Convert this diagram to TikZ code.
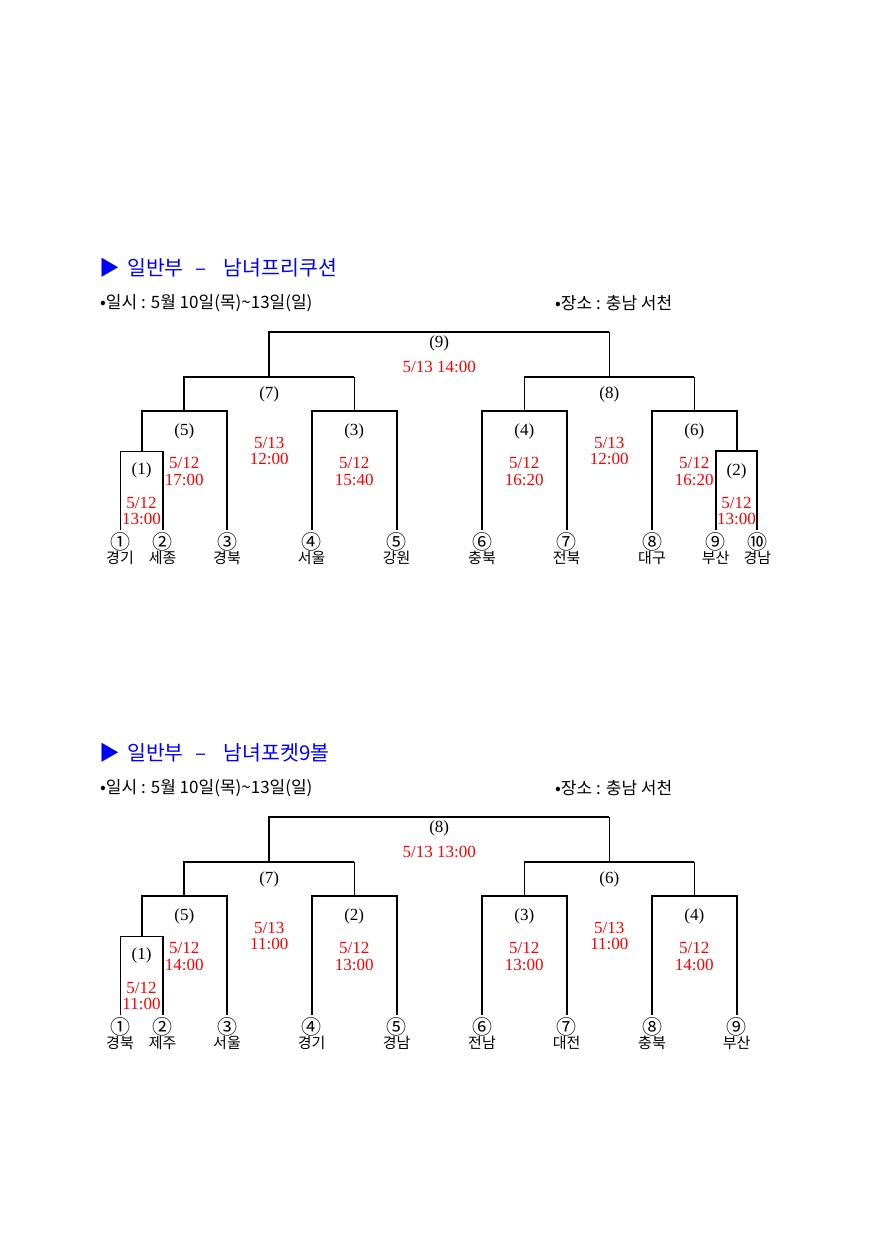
\documentclass[tikz,border=0pt]{standalone}
\usepackage{fontspec}
\setmainfont{Liberation Serif}
\newfontfamily\kr{Noto Sans CJK KR}
\usetikzlibrary{positioning}
\definecolor{TitleBlue}{RGB}{0,0,255}
\definecolor{TimeRed}{RGB}{255,0,0}
\tikzset{
  bline/.style={line width=2pt,black},
  tline/.style={line width=1pt,black},
  rno/.style={font=\fontsize{17}{18}\selectfont,inner sep=0pt},
  rtime/.style={font=\fontsize{17}{16.5}\selectfont,text=TimeRed,align=center,
    inner sep=0pt},
  cnum/.style={font=\kr\fontsize{20}{20}\selectfont,inner sep=0pt},
  team/.style={font=\kr\fontsize{15}{16}\selectfont,inner sep=0pt},
  heading/.style={font=\kr\fontsize{20.5}{22}\selectfont,text=TitleBlue,
    anchor=west,inner sep=0pt},
  info/.style={font=\kr\fontsize{17}{18}\selectfont,anchor=west,inner sep=0pt}
}

\begin{document}
\begin{tikzpicture}[x=1pt,y=-1pt]
\useasboundingbox[fill=white] (0,0) rectangle (888,1256);

% ===== Free cushion =====
\node[heading,anchor=center] (aarr) at (110,268) {▶};
\node[heading] (atitle) at (127,268) {일반부\hspace{12pt}–\hspace{17pt}남녀프리쿠션};
\node[info] (adate) at (100,303) {•일시 : 5월 10일(목)\textasciitilde 13일(일)};
\node[info] (aplace) at (555,303) {•장소 : 충남 서천};

% team ends
\coordinate (a1) at (120,530);
\coordinate (a2) at (162.7,530);
\coordinate (a3) at (227,530);
\coordinate (a4) at (311.7,530);
\coordinate (a5) at (396.7,530);
\coordinate (a6) at (482,530);
\coordinate (a7) at (566.7,530);
\coordinate (a8) at (652,530);
\coordinate (a9) at (715.7,530);
\coordinate (a10) at (757.3,530);

% match tops
\coordinate (am1) at (141.5,451.3);
\coordinate (am2) at (736.5,451.3);
\coordinate (am5) at (184.3,411);
\coordinate (am3) at (354.2,411);
\coordinate (am4) at (524.3,411);
\coordinate (am6) at (694.3,411);
\coordinate (am7) at (269.2,376.7);
\coordinate (am8) at (609.3,376.7);
\coordinate (am9) at (439.2,331.7);

% bracket lines
\draw[tline] (a1) |- (am1) -| (a2);
\draw[bline] (a2) -- (a2 |- am1);
\draw[bline] (a9) |- (am2) -| (a10);
\draw[bline] (am1) |- (am5) -| (a3);
\draw[bline] (a4) |- (am3) -| (a5);
\draw[bline] (a6) |- (am4) -| (a7);
\draw[bline] (a8) |- (am6) -| (am2);
\draw[bline] (am5) |- (am7) -- (am3 |- am7);
\draw[tline] (am3 |- am7) -- (am3);
\draw[bline] (am4 |- am8) -- (am6 |- am8);
\draw[tline] (am4) -- (am4 |- am8);
\draw[tline] (am6) -- (am6 |- am8);
\draw[bline] (am7) |- (am9) -- (am8 |- am9);
\draw[tline] (am8 |- am9) -- (am8);

% round numbers and times
\node[rno] (ar9) at (439.2,343) {(9)};
\node[rtime] (at9) at (439.2,366.7) {5/13 14:00};
\node[rno] (ar7) at (269.2,394) {(7)};
\node[rtime] (at7) at (269.2,451) {5/13\\12:00};
\node[rno] (ar8) at (609.3,394) {(8)};
\node[rtime] (at8) at (609.3,451) {5/13\\12:00};
\node[rno] (ar5) at (184.3,431) {(5)};
\node[rtime] (at5) at (184.3,471.5) {5/12\\17:00};
\node[rno] (ar3) at (354.2,431) {(3)};
\node[rtime] (at3) at (354.2,471.5) {5/12\\15:40};
\node[rno] (ar4) at (524.3,431) {(4)};
\node[rtime] (at4) at (524.3,471.5) {5/12\\16:20};
\node[rno] (ar6) at (694.3,431) {(6)};
\node[rtime] (at6) at (694.3,471.5) {5/12\\16:20};
\node[rno] (ar1) at (141.5,470) {(1)};
\node[rtime] (at1) at (141.5,511) {5/12\\13:00};
\node[rno] (ar2) at (736.5,471.7) {(2)};
\node[rtime] (at2) at (736.5,511) {5/12\\13:00};

% teams
\node[cnum] (ac1) at (120,541.7) {①};
\node[cnum] (ac2) at (162.7,541.7) {②};
\node[cnum] (ac3) at (227,541.7) {③};
\node[cnum] (ac4) at (311.7,541.7) {④};
\node[cnum] (ac5) at (396.7,541.7) {⑤};
\node[cnum] (ac6) at (482,541.7) {⑥};
\node[cnum] (ac7) at (566.7,541.7) {⑦};
\node[cnum] (ac8) at (652,541.7) {⑧};
\node[cnum] (ac9) at (715.7,541.7) {⑨};
\node[cnum] (ac10) at (757.3,541.7) {⑩};
\node[team] (an1) at (120,558) {경기};
\node[team] (an2) at (162.7,558) {세종};
\node[team] (an3) at (227,558) {경북};
\node[team] (an4) at (311.7,558) {서울};
\node[team] (an5) at (396.7,558) {강원};
\node[team] (an6) at (482,558) {충북};
\node[team] (an7) at (566.7,558) {전북};
\node[team] (an8) at (652,558) {대구};
\node[team] (an9) at (715.7,558) {부산};
\node[team] (an10) at (757.3,558) {경남};

% ===== Pocket 9 ball =====
\begin{scope}[yshift=-485pt]
\node[heading,anchor=center] (barr) at (110,268) {▶};
\node[heading] (btitle) at (127,268) {일반부\hspace{12pt}–\hspace{17pt}남녀포켓9볼};
\node[info] (bdate) at (100,303) {•일시 : 5월 10일(목)\textasciitilde 13일(일)};
\node[info] (bplace) at (555,303) {•장소 : 충남 서천};

% team ends
\coordinate (b1) at (120,530);
\coordinate (b2) at (162.7,530);
\coordinate (b3) at (227,530);
\coordinate (b4) at (311.7,530);
\coordinate (b5) at (396.7,530);
\coordinate (b6) at (482,530);
\coordinate (b7) at (566.7,530);
\coordinate (b8) at (652,530);
\coordinate (b9) at (736.7,530);

% match tops
\coordinate (bm1) at (141.5,451.3);
\coordinate (bm5) at (184.3,411);
\coordinate (bm2) at (354.2,411);
\coordinate (bm3) at (524.3,411);
\coordinate (bm4) at (694.3,411);
\coordinate (bm7) at (269.2,376.7);
\coordinate (bm6) at (609.3,376.7);
\coordinate (bm8) at (439.2,331.7);

% bracket lines
\draw[tline] (b1) |- (bm1) -| (b2);
\draw[bline] (b2) -- (b2 |- bm1);
\draw[bline] (bm1) |- (bm5) -| (b3);
\draw[bline] (b4) |- (bm2) -| (b5);
\draw[bline] (b6) |- (bm3) -| (b7);
\draw[bline] (b8) |- (bm4) -| (b9);
\draw[bline] (bm5) |- (bm7) -- (bm2 |- bm7);
\draw[tline] (bm2 |- bm7) -- (bm2);
\draw[bline] (bm3 |- bm6) -- (bm4 |- bm6);
\draw[tline] (bm3) -- (bm3 |- bm6);
\draw[tline] (bm4) -- (bm4 |- bm6);
\draw[bline] (bm7) |- (bm8) -- (bm6 |- bm8);
\draw[tline] (bm6 |- bm8) -- (bm6);

% round numbers and times
\node[rno] (br8) at (439.2,343) {(8)};
\node[rtime] (bt8) at (439.2,366.7) {5/13 13:00};
\node[rno] (br7) at (269.2,394) {(7)};
\node[rtime] (bt7) at (269.2,451) {5/13\\11:00};
\node[rno] (br6) at (609.3,394) {(6)};
\node[rtime] (bt6) at (609.3,451) {5/13\\11:00};
\node[rno] (br5) at (184.3,431) {(5)};
\node[rtime] (bt5) at (184.3,471.5) {5/12\\14:00};
\node[rno] (br2) at (354.2,431) {(2)};
\node[rtime] (bt2) at (354.2,471.5) {5/12\\13:00};
\node[rno] (br3) at (524.3,431) {(3)};
\node[rtime] (bt3) at (524.3,471.5) {5/12\\13:00};
\node[rno] (br4) at (694.3,431) {(4)};
\node[rtime] (bt4) at (694.3,471.5) {5/12\\14:00};
\node[rno] (br1) at (141.5,470) {(1)};
\node[rtime] (bt1) at (141.5,511) {5/12\\11:00};

% teams
\node[cnum] (bc1) at (120,541.7) {①};
\node[cnum] (bc2) at (162.7,541.7) {②};
\node[cnum] (bc3) at (227,541.7) {③};
\node[cnum] (bc4) at (311.7,541.7) {④};
\node[cnum] (bc5) at (396.7,541.7) {⑤};
\node[cnum] (bc6) at (482,541.7) {⑥};
\node[cnum] (bc7) at (566.7,541.7) {⑦};
\node[cnum] (bc8) at (652,541.7) {⑧};
\node[cnum] (bc9) at (736.7,541.7) {⑨};
\node[team] (bn1) at (120,558) {경북};
\node[team] (bn2) at (162.7,558) {제주};
\node[team] (bn3) at (227,558) {서울};
\node[team] (bn4) at (311.7,558) {경기};
\node[team] (bn5) at (396.7,558) {경남};
\node[team] (bn6) at (482,558) {전남};
\node[team] (bn7) at (566.7,558) {대전};
\node[team] (bn8) at (652,558) {충북};
\node[team] (bn9) at (736.7,558) {부산};
\end{scope}

\end{tikzpicture}
\end{document}
